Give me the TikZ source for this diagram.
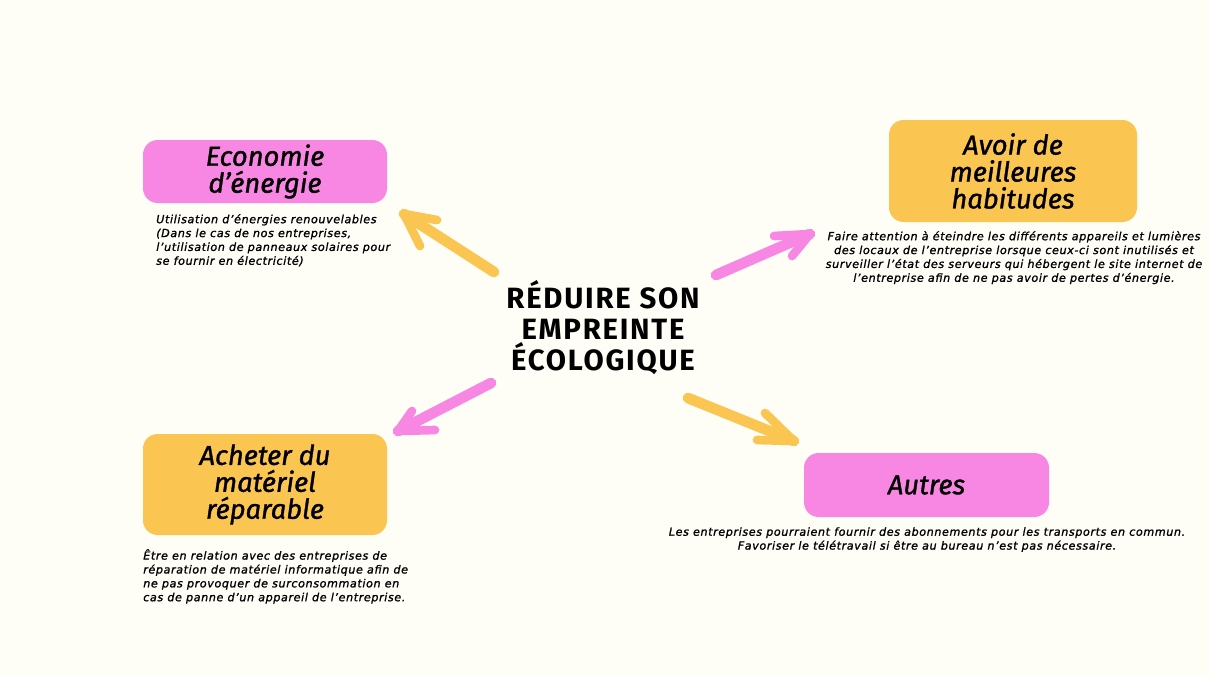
\documentclass[tikz,border=0pt]{standalone}
\usepackage{fontspec}
\setmainfont{Fira Sans}
\newfontfamily\titlefont[FakeBold=1.2]{Fira Sans}
\newfontfamily\centerfont[LetterSpace=6]{Fira Sans}
\newfontfamily\descfont[FakeBold=1.3,LetterSpace=5.5]{DejaVu Sans}
\definecolor{bg}{HTML}{FEFDF6}
\definecolor{pinkc}{HTML}{F887E3}
\definecolor{orangec}{HTML}{FBC551}
\tikzset{
  box/.style={rounded corners=11pt, inner sep=0pt, align=center, text=black,
    font=\titlefont\fontsize{20.5}{20.2}\selectfont\itshape},
  desc/.style={inner sep=0pt, text=black, font=\descfont\fontsize{8.35}{10.4}\selectfont\itshape},
  brush/.style={line width=8pt, line cap=round, line join=round},
  brushhead/.style={line width=6.5pt, line cap=round, line join=round},
}
\begin{document}
\begin{tikzpicture}[x=0.75pt,y=-0.75pt]
\fill[bg] (0,0) rectangle (1210,676);
\useasboundingbox (0,0) rectangle (1210,676);

% boxes
\node[box, fill=pinkc, minimum width=183pt, minimum height=47.25pt] (eco) at (265,171.5) {Economie\\d’énergie};
\node[box, fill=orangec, minimum width=186pt, minimum height=76.5pt] (hab) at (1013,171) {Avoir de\\meilleures\\habitudes};
\node[box, fill=orangec, minimum width=183pt, minimum height=75.75pt] (ach) at (265,484.5) {Acheter du\\matériel\\réparable};
\node[box, fill=pinkc, minimum width=183.75pt, minimum height=48pt] (aut) at (926.5,485) {Autres};

% center
\node[inner sep=0pt, align=center, font=\centerfont\fontsize{22}{23.2}\selectfont\bfseries] (ctr) at (603,328) {RÉDUIRE SON\\EMPREINTE\\ÉCOLOGIQUE};

% descriptions
\node[desc, anchor=north west, align=left] (ecod) at (156,214) {Utilisation d’énergies renouvelables\\(Dans le cas de nos entreprises,\\l’utilisation de panneaux solaires pour\\se fournir en électricité)};
\node[desc, anchor=north, align=center] (habd) at (1014,231) {Faire attention à éteindre les différents appareils et lumières\\des locaux de l’entreprise lorsque ceux-ci sont inutilisés et\\surveiller l’état des serveurs qui hébergent le site internet de\\l’entreprise afin de ne pas avoir de pertes d’énergie.};
\node[desc, anchor=north west, align=left] (achd) at (143,549) {Être en relation avec des entreprises de\\réparation de matériel informatique afin de\\ne pas provoquer de surconsommation en\\cas de panne d’un appareil de l’entreprise.};
\node[desc, anchor=north, align=center] (autd) at (927,527) {Les entreprises pourraient fournir des abonnements pour les transports en commun.\\Favoriser le télétravail si être au bureau n’est pas nécessaire.};

% arrows
\coordinate (a1s) at (494,272);
\coordinate (a1t) at (404,214);
\coordinate (a1l) at (437,220);
\coordinate (a1r) at (420,246);
\draw[brush, orangec] (a1s) -- (a1t);
\draw[brushhead, orangec] (a1l) -- (a1t) -- (a1r);

\coordinate (a2s) at (716,275);
\coordinate (a2t) at (810,234);
\coordinate (a2l) at (774,236);
\coordinate (a2r) at (792,256);
\draw[brush, pinkc] (a2s) -- (a2t);
\draw[brushhead, pinkc] (a2l) -- (a2t) -- (a2r);

\coordinate (a3s) at (491,383);
\coordinate (a3t) at (398,431);
\coordinate (a3l) at (412,411);
\coordinate (a3r) at (435,430);
\draw[brush, pinkc] (a3s) -- (a3t);
\draw[brushhead, pinkc] (a3l) -- (a3t) -- (a3r);

\coordinate (a4s) at (688,398);
\coordinate (a4t) at (794,441);
\coordinate (a4l) at (765,413);
\coordinate (a4r) at (757,440);
\draw[brush, orangec] (a4s) -- (a4t);
\draw[brushhead, orangec] (a4l) -- (a4t) -- (a4r);
\end{tikzpicture}
\end{document}
